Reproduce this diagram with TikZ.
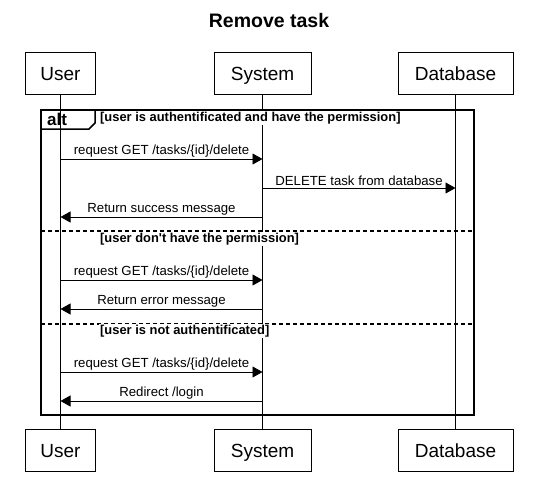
\documentclass[tikz,border=0pt]{standalone}
\usepackage{fontspec}
\setmainfont{Liberation Sans}
\usetikzlibrary{arrows.meta}
\begin{document}
\begin{tikzpicture}[x=1pt,y=-1pt,
  actor/.style={draw,fill=white,line width=0.8pt,minimum height=42pt,text height=14pt,text depth=0pt,font=\fontsize{19}{22}\selectfont,inner sep=0pt},
  msg/.style={line width=0.8pt,-{Triangle[length=10pt,width=11pt]}},
  lbl/.style={midway,above,inner sep=1.5pt,font=\fontsize{13.2}{15}\selectfont},
  frame/.style={line width=1.5pt},
  guard/.style={anchor=west,fill=white,inner sep=1pt,font=\bfseries\fontsize{12.9}{14}\selectfont}]
\useasboundingbox (0,0) rectangle (534,482);
\node[font=\bfseries\fontsize{19.5}{22}\selectfont] (title) at (269,21) {Remove task};
% participants, top and bottom
\foreach \p/\x/\w/\t in {user/60.5/70/User,sys/262.5/97/System,db/455.5/115/Database}{
  \node[actor,minimum width=\w pt] (\p T) at (\x,73) {\t};
  \node[actor,minimum width=\w pt] (\p B) at (\x,450) {\t};
  \draw[line width=0.8pt] (\p T) -- (\p B);}
% message rows on the lifelines
\foreach \r/\yy in {a/159,b/188,c/217,d/280,e/309,f/372,g/401}{
  \foreach \p in {user,sys,db}{
    \coordinate (\p\r) at (\p T |- 0,\yy);}}
% alt frame
\draw[frame] (41,110) rectangle (474,415);
\draw[frame] (41,110) -- (95,110) -- (95,123) -- (89,129) -- (41,129);
\node[font=\bfseries\fontsize{17}{19}\selectfont] (alt) at (57,119) {alt};
\draw[frame,dash pattern=on 4pt off 3pt] (41,231) -- (474,231);
\draw[frame,dash pattern=on 4pt off 3pt] (41,324) -- (474,324);
\node[guard] (g1) at (99,118) {[user is authentificated and have the permission]};
\node[guard] (g2) at (99,239) {[user don\textquotesingle t have the permission]};
\node[guard] (g3) at (99,331) {[user is not authentificated]};
% messages
\draw[msg] (usera) -- node[lbl] {request GET /tasks/\{id\}/delete} (sysa);
\draw[msg] (sysb) -- node[lbl] {DELETE task from database} (dbb);
\draw[msg] (sysc) -- node[lbl] {Return success message} (userc);
\draw[msg] (userd) -- node[lbl] {request GET /tasks/\{id\}/delete} (sysd);
\draw[msg] (syse) -- node[lbl] {Return error message} (usere);
\draw[msg] (userf) -- node[lbl] {request GET /tasks/\{id\}/delete} (sysf);
\draw[msg] (sysg) -- node[lbl] {Redirect /login} (userg);
\end{tikzpicture}
\end{document}
